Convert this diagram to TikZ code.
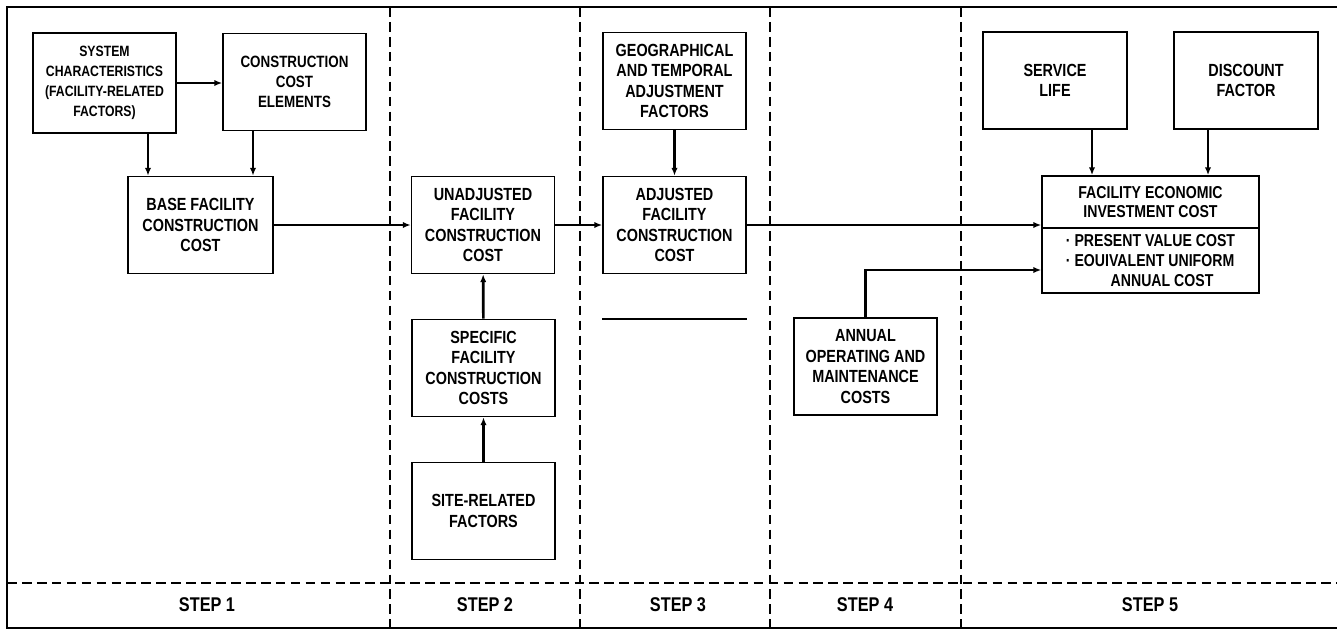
\documentclass[tikz,border=0pt]{standalone}
\usepackage{fontspec}
\setmainfont{Liberation Sans}[FakeStretch=0.82]
\usetikzlibrary{arrows.meta, positioning}

\begin{document}
\begin{tikzpicture}[
        x=0.02cm, y=-0.02cm,
        blk/.style  = {draw, line width=0.9pt, minimum width=2.86cm, minimum height=1.94cm, inner sep=2pt, align=center, font=\fontsize{10}{11.6}\selectfont\bfseries},
        feic/.style = {draw, line width=0.9pt, minimum width=4.34cm, inner sep=2pt, font=\fontsize{9.8}{11.3}\selectfont\bfseries},
        ar/.style   = {-{Latex[length=4.5pt,width=3.6pt]}, line width=1.5pt},
        div/.style  = {dash pattern=on 5.5pt off 3pt, line width=1.1pt},
        steplbl/.style = {font=\fontsize{11.3}{14}\selectfont\bfseries}
    ]
        \useasboundingbox (0,0) rectangle (1337,629);

        % frame and step columns
        \draw[line width=0.9pt] (1337,7) -- (7,7) -- (7,628) -- (1337,628);
        \draw[div] (7,583) -- (1337,583);
        \foreach \xd in {390,580,770,961}
            \draw[div] (\xd,7) -- (\xd,628);

        % step 1
        \node[blk, font=\fontsize{8.5}{11.3}\selectfont\bfseries, minimum height=2cm] (sys) at (104.5,83) {SYSTEM\\CHARACTERISTICS\\(FACILITY-RELATED\\FACTORS)};
        \node[blk, font=\fontsize{9.3}{11.3}\selectfont\bfseries] (cce) at (294.5,82) {CONSTRUCTION\\COST\\ELEMENTS};
        \node[blk, minimum width=2.9cm] (base) at (200.5,225) {BASE FACILITY\\CONSTRUCTION\\COST};

        % step 2
        \node[blk] (unadj) at (483,225) {UNADJUSTED\\FACILITY\\CONSTRUCTION\\COST};
        \node[blk] (spec)  at (483.5,368) {SPECIFIC\\FACILITY\\CONSTRUCTION\\COSTS};
        \node[blk] (site)  at (483.5,511) {SITE-RELATED\\FACTORS};

        % step 3
        \node[blk] (geo) at (674.5,81)  {GEOGRAPHICAL\\AND TEMPORAL\\ADJUSTMENT\\FACTORS};
        \node[blk] (adj) at (674.5,225) {ADJUSTED\\FACILITY\\CONSTRUCTION\\COST};
        \draw[line width=0.9pt] (adj.west |- 0,319) -- (adj.east |- 0,319);

        % step 4
        \node[blk] (annual) at (865.5,366.5) {ANNUAL\\OPERATING AND\\MAINTENANCE\\COSTS};

        % step 5
        \node[blk, minimum width=2.88cm] (svc)  at (1055,80.5) {SERVICE\\LIFE};
        \node[blk, minimum width=2.88cm] (disc) at (1246,80.5) {DISCOUNT\\FACTOR};
        \node[feic, minimum height=1.04cm, align=center] (feic) at (1150.5,202) {FACILITY ECONOMIC\\INVESTMENT COST};
        \node[feic, minimum height=1.3cm, align=left] (feicb) at (1150.5,260.5) {· PRESENT VALUE COST\\· EOUIVALENT UNIFORM\\\hspace*{2.6em}ANNUAL COST};

        \draw[ar] (sys.east) -- (sys.east -| cce.west);
        \draw[ar] (148,0 |- sys.south) -- (148,0 |- base.north);
        \draw[ar] (253,0 |- cce.south) -- (253,0 |- base.north);
        \draw[ar] (base) -- (unadj);
        \draw[ar] (site) -- (spec);
        \draw[ar] (spec) -- (unadj);
        \draw[ar] (unadj) -- (adj);
        \draw[ar] (geo) -- (adj);
        \draw[ar] (adj.east) -- (adj.east -| feic.west);
        \draw[ar] (annual.north) |- (feicb.west |- 0,270);
        \draw[ar] (1092,0 |- svc.south) -- (1092,0 |- feic.north);
        \draw[ar] (1208,0 |- disc.south) -- (1208,0 |- feic.north);

        \node[steplbl] (s1) at (207,605)  {STEP 1};
        \node[steplbl] (s2) at (485,605)  {STEP 2};
        \node[steplbl] (s3) at (678,605)  {STEP 3};
        \node[steplbl] (s4) at (865,605)  {STEP 4};
        \node[steplbl] (s5) at (1150,605) {STEP 5};
    \end{tikzpicture}
\end{document}
